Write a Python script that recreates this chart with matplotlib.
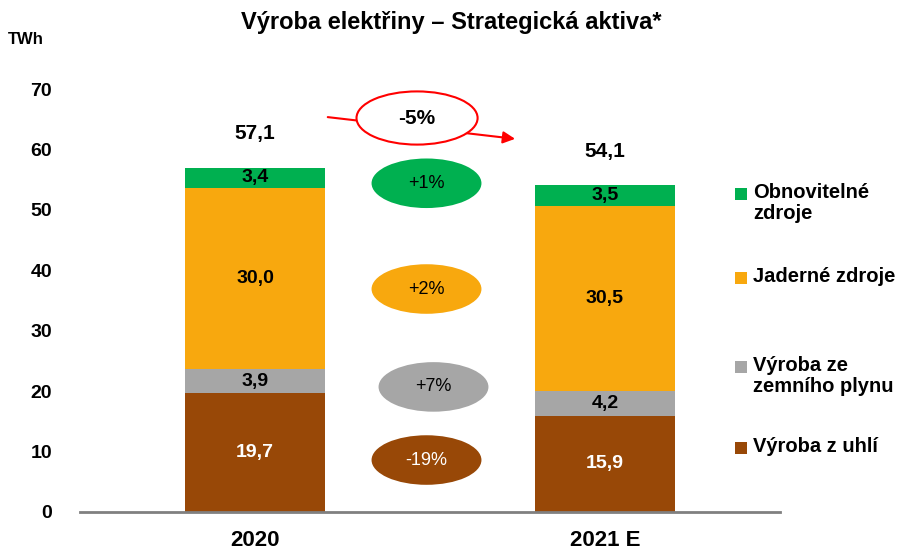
import matplotlib.pyplot as plt
from matplotlib.patches import Ellipse, Rectangle

plt.rcParams['font.family'] = ['Liberation Sans', 'DejaVu Sans']

# data
years = ["2020", "2021 E"]
coal = [19.7, 15.9]
gas = [3.9, 4.2]
nuclear = [30.0, 30.5]
renew = [3.4, 3.5]
totals = [57.1, 54.1]

labels = ["Obnovitelné\nzdroje", "Jaderné zdroje", "Výroba ze\nzemního plynu", "Výroba z uhlí"]
colors = ["#00B050", "#F8A80E", "#A6A6A6", "#984807"]

# change bubbles (label, y position in TWh)
changes = ["+1%", "+2%", "+7%", "-19%"]
change_y = [54.4, 36.9, 20.7, 8.6]
change_x = [0.49, 0.49, 0.51, 0.49]
total_change = "-5%"

fig = plt.figure(figsize=(9.19, 5.53), dpi=100)
ax = fig.add_axes([80 / 919, 1 - 512 / 553, 700 / 919, 423 / 553])

x = [0, 1]
w = 0.4
segs = [coal, gas, nuclear, renew]
seg_colors = [colors[3], colors[2], colors[1], colors[0]]
txt_colors = ["white", "black", "black", "black"]
bottom = [0, 0]
for vals, c, tc in zip(segs, seg_colors, txt_colors):
    bars = ax.bar(x, vals, w, bottom=bottom, color=c, zorder=2)
    for b, v, b0 in zip(bars, vals, bottom):
        ax.text(b.get_x() + b.get_width() / 2, b0 + v / 2, f"{v:.1f}".replace(".", ","),
                ha="center", va="center", fontsize=14, fontweight="bold", color=tc, zorder=3)
    bottom = [b0 + v for b0, v in zip(bottom, vals)]

for xi, t in zip(x, totals):
    ax.annotate(f"{t:.1f}".replace(".", ","), (xi, t), xytext=(0, 24), textcoords="offset points",
                ha="center", va="center", fontsize=15, fontweight="bold")

# bubbles
for lab, yv, xv, c in zip(changes, change_y, change_x, colors):
    ax.add_patch(Ellipse((xv, yv), 0.314, 8.2, facecolor=c, edgecolor="none", zorder=2))
    ax.text(xv, yv, lab, ha="center", va="center", fontsize=13,
            color="white" if c == colors[3] else "black", zorder=3)

# total change arrow with red ellipse
ax.annotate("", xy=(0.751, 61.7), xytext=(0.2, 65.4),
            arrowprops=dict(arrowstyle="-|>", color="red", lw=1.5, mutation_scale=18), zorder=2)
ax.add_patch(Ellipse((0.463, 65.2), 0.346, 8.8, facecolor="white", edgecolor="red", lw=1.5, zorder=3))
ax.text(0.463, 65.2, total_change, ha="center", va="center", fontsize=15, fontweight="bold", zorder=4)

ax.set_xlim(-0.5, 1.5)
ax.set_ylim(0, 70)
ax.set_yticks(range(0, 71, 10))
ax.set_xticks(x)
ax.set_xticklabels(years, fontsize=16, fontweight="bold")
for t in ax.get_yticklabels():
    t.set_fontsize(14)
    t.set_fontweight("bold")
ax.tick_params(axis="both", length=0)
ax.tick_params(axis="y", pad=20)
ax.tick_params(axis="x", pad=13)
for s in ["left", "right", "top"]:
    ax.spines[s].set_visible(False)
ax.spines["bottom"].set_color("#808080")
ax.spines["bottom"].set_linewidth(2)
ax.spines["bottom"].set_zorder(4)

fig.text(451 / 919, 1 - 22 / 553, "Výroba elektřiny – Strategická aktiva*", ha="center", va="center",
         fontsize=17, fontweight="bold")
fig.text(8 / 919, 1 - 40 / 553, "TWh", ha="left", va="center", fontsize=12, fontweight="bold")

# legend
leg_y = [194, 278, 367, 448]
for lab, c, yy in zip(labels, colors, leg_y):
    fig.patches.append(Rectangle((735 / 919, 1 - (yy + 6) / 553), 12 / 919, 12 / 553,
                                 facecolor=c, transform=fig.transFigure, figure=fig))
    fig.text(753 / 919, 1 - (yy - 11) / 553, lab, ha="left", va="top", fontsize=14.5,
             fontweight="bold", linespacing=1.15)

fig.savefig("out.png", dpi=100)
